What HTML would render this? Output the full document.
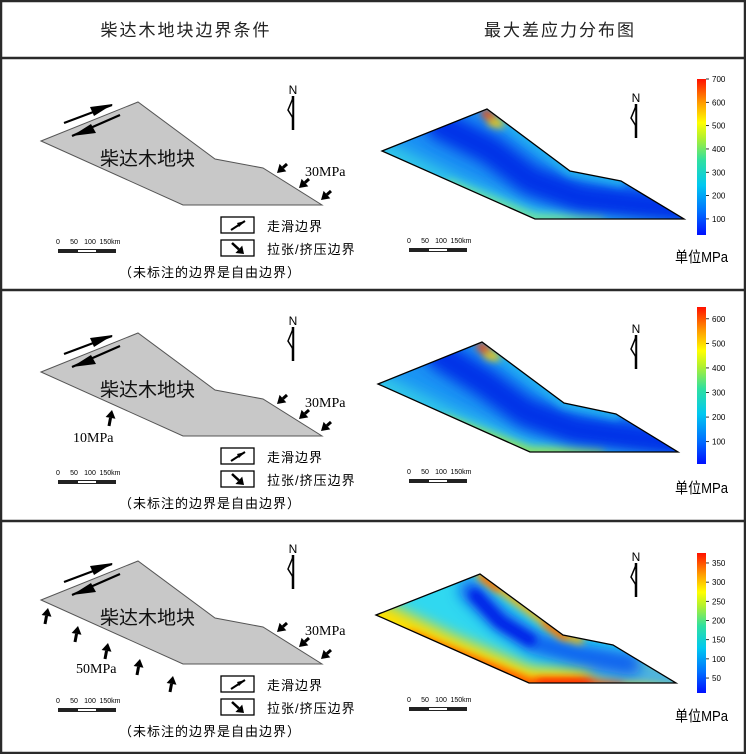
<!DOCTYPE html>
<html><head><meta charset="utf-8"><style>
html,body{margin:0;padding:0;background:#fff;}
svg{display:block;font-family:"Liberation Sans","Noto Sans CJK SC",sans-serif;}
</style></head><body>
<svg id="fig" width="746" height="754" viewBox="0 0 746 754" xmlns="http://www.w3.org/2000/svg">
<defs>
 <linearGradient id="jet" x1="0" y1="1" x2="0" y2="0">
  <stop offset="0" stop-color="#0010ff"/><stop offset="0.15" stop-color="#0070ff"/>
  <stop offset="0.32" stop-color="#00c8f0"/><stop offset="0.48" stop-color="#30e0a0"/>
  <stop offset="0.62" stop-color="#b0f030"/><stop offset="0.72" stop-color="#ffff00"/>
  <stop offset="0.85" stop-color="#ff9a00"/><stop offset="1" stop-color="#ff1000"/>
 </linearGradient>
 <filter id="blur" filterUnits="userSpaceOnUse" x="0" y="0" width="746" height="754"><feGaussianBlur stdDeviation="7"/></filter>
 <filter id="blur2" filterUnits="userSpaceOnUse" x="0" y="0" width="746" height="754"><feGaussianBlur stdDeviation="4"/></filter>
</defs>
<rect x="1" y="1" width="744" height="752" fill="#fff" stroke="#2a2a2a" stroke-width="2.5"/>
<text x="186" y="36" font-size="17" text-anchor="middle" letter-spacing="2" fill="#222">柴达木地块边界条件</text>
<text x="560" y="36" font-size="17" text-anchor="middle" letter-spacing="2" fill="#222">最大差应力分布图</text>
<g id="panels"></g>
</svg>
<script>
// panel vertical offsets
const panelOffsets = [0, 231, 459];
const separatorsY = [58, 290, 521];
// colorbar data per panel
const cbMin = [31, 9, 11];
const cbMax = [700, 648, 376];
const cbTicks = [[100,200,300,400,500,600,700],[100,200,300,400,500,600],[50,100,150,200,250,300,350]];
const cbTop = [79, 307, 553];
const cbBottom = [235, 464, 693];
// right-side stress polygons
const rightPolys = [
 [[382,151],[487,109],[570,171],[621,181],[684,219],[535,219]],
 [[378,384],[482,342],[564,403],[616,414],[678,452],[530,452]],
 [[376,615],[480,574],[563,635],[613,645],[676,683],[529,683]]
];
// heatmap field approximation: base colour and blurred strokes [color,width,blur,path-points]
const heatBase = ['#1a90f4', '#1a94f4', '#30d8f0'];
const heatLayers = [
 [
  ['#30c8e8',22,'blur',[[382,151],[460,190],[535,219],[684,219]]],
  ['#70e0a0',10,'blur2',[[450,185],[535,219],[600,219]]],
  ['#0030e8',30,'blur',[[440,125],[490,150],[530,180],[580,198],[640,205],[690,210]]],
  ['#20b0f0',10,'blur2',[[487,109],[570,171],[621,181]]],
  ['#ff4000',8,'blur2',[[485,113],[492,118]]],
  ['#ffd000',8,'blur2',[[492,122],[500,124]]]
 ],
 [
  ['#30c8e8',22,'blur',[[378,384],[455,422],[530,452],[678,452]]],
  ['#90e060',10,'blur2',[[445,420],[530,452],[600,452]]],
  ['#0030e8',30,'blur',[[440,355],[485,383],[525,412],[575,430],[635,438],[685,444]]],
  ['#20b0f0',10,'blur2',[[482,342],[564,403],[616,414]]],
  ['#ff4000',8,'blur2',[[480,346],[487,351]]],
  ['#ffd000',8,'blur2',[[488,355],[496,357]]]
 ],
 [
  ['#ffe000',30,'blur',[[376,615],[450,650],[529,683],[676,683]]],
  ['#ff5000',10,'blur2',[[410,636],[529,683],[620,683]]],
  ['#ff2000',7,'blur2',[[540,683],[590,683]]],
  ['#40b0f0',22,'blur',[[600,668],[690,680]]],
  ['#1060f0',22,'blur',[[470,590],[500,620],[535,643],[580,655],[630,664]]],
  ['#0020e8',12,'blur2',[[475,595],[500,622],[530,640]]],
  ['#ffb000',8,'blur2',[[480,574],[563,635],[580,640]]],
  ['#ff5000',5,'blur2',[[482,577],[498,589]]],
  ['#ff5000',5,'blur2',[[545,623],[565,637]]]
 ]
];
const leftPoly = [[41,141],[138,102],[215,159],[263,168],[322,205],[183,205]];
const compTips = [[277,173],[299,188],[321,200]];
const extraLoad = [null, {label:'10MPa', arrows:[[112,410]], tx:73, ty:442},
 {label:'50MPa', arrows:[[48,608],[78,626],[108,643],[140,659],[173,676]], tx:76, ty:673}];
const scaleLabels = ['0','50','100','150km'];

const NS='http://www.w3.org/2000/svg';
const root=document.getElementById('panels');
function mk(tag,attrs,parent){const e=document.createElementNS(NS,tag);for(const k in attrs)e.setAttribute(k,attrs[k]);(parent||root).appendChild(e);return e;}
function txt(s,attrs,parent){const e=mk('text',attrs,parent);e.textContent=s;return e;}
function pts(a,dy){return a.map(p=>p[0]+','+(p[1]+dy)).join(' ');}
function arrow(g,x1,y1,x2,y2,w,h,hw){
 h=h||7;hw=hw||5;
 const dx=x2-x1,dy=y2-y1,L=Math.hypot(dx,dy),ux=dx/L,uy=dy/L,nx=-uy,ny=ux;
 const bx=x2-ux*h,by=y2-uy*h;
 mk('line',{x1:x1,y1:y1,x2:bx,y2:by,stroke:'#000','stroke-width':w||2.5},g);
 mk('polygon',{points:`${x2},${y2} ${bx+nx*hw},${by+ny*hw} ${bx-nx*hw},${by-ny*hw}`,fill:'#000'},g);
}
function northArrow(g,x,y){
 txt('N',{x:x,y:y,'font-size':12,'text-anchor':'middle',fill:'#000'},g);
 mk('line',{x1:x,y1:y+2,x2:x,y2:y+36,stroke:'#000','stroke-width':2.5},g);
 mk('polygon',{points:`${x},${y+4} ${x-5},${y+16} ${x},${y+24}`,fill:'#fff',stroke:'#000','stroke-width':1.5},g);
}
function scaleBar(g,x,y){
 const xs=[0,16,32,52];
 scaleLabels.forEach((s,i)=>txt(s,{x:x+xs[i],y:y-7,'font-size':7,'text-anchor':'middle',fill:'#000'},g));
 mk('rect',{x:x,y:y-2,width:58,height:4,fill:'#222'},g);
 mk('rect',{x:x+20,y:y-1,width:18,height:2,fill:'#fff'},g);
}
separatorsY.forEach((y,i)=>{
 const l=mk('line',{x1:1,y1:y,x2:745,y2:y,stroke:'#2a2a2a','stroke-width':2.5});
 
 
});
const defs=document.querySelector('defs');
panelOffsets.forEach((dy,pi)=>{
 const g=mk('g',{});
 
 
 const lp=mk('polygon',{points:pts(leftPoly,dy),fill:'#c8c8c8',stroke:'#555','stroke-width':1},g);
 
 
 const bl=txt('柴达木地块',{x:100,y:165+dy,'font-size':19,fill:'#111'},g);
 
 
 mk('line',{x1:64,y1:123+dy,x2:112,y2:105+dy,stroke:'#000','stroke-width':2.2},g);
 mk('polygon',{points:`${113},${104+dy} ${90},${107+dy} ${94},${116+dy}`,fill:'#000'},g);
 mk('line',{x1:72,y1:136+dy,x2:120,y2:115+dy,stroke:'#000','stroke-width':2.2},g);
 mk('polygon',{points:`${72},${136+dy} ${96},${133+dy} ${91},${124+dy}`,fill:'#000'},g);
 const cg=mk('g',{},g);
 
 
 compTips.forEach(t=>arrow(cg,t[0]+10,t[1]-9+dy,t[0],t[1]+dy,3,8,5));
 txt('30MPa',{x:305,y:176+dy,'font-size':14,'font-family':'Liberation Serif, serif',fill:'#000'},g);
 const ex=extraLoad[pi];
 if(ex){
  const eg=mk('g',{},g);
  
  
  ex.arrows.forEach(t=>arrow(eg,t[0]-3,t[1]+16,t[0],t[1],3,8,5));
  txt(ex.label,{x:ex.tx,y:ex.ty,'font-size':14,'font-family':'Liberation Serif, serif',fill:'#000'},g);
 }
 northArrow(g,293,94+dy);
 scaleBar(g,58,251+dy);
 const lg=mk('g',{},g);
 
 
 mk('rect',{x:221,y:217+dy,width:33,height:16,fill:'#fff',stroke:'#000','stroke-width':1.3},lg);
 mk('line',{x1:231,y1:230+dy,x2:245,y2:221+dy,stroke:'#000','stroke-width':2},lg);
 mk('polygon',{points:`245,${221+dy} 237,${223+dy} 239,${227+dy}`,fill:'#000'},lg);
 txt('走滑边界',{x:267,y:231+dy,'font-size':13,fill:'#000','letter-spacing':1},lg);
 mk('rect',{x:221,y:240+dy,width:33,height:16,fill:'#fff',stroke:'#000','stroke-width':1.3},lg);
 arrow(lg,232,243+dy,244,254+dy,2.5,7,5);
 txt('拉张/挤压边界',{x:267,y:254+dy,'font-size':13,fill:'#000','letter-spacing':1},lg);
 txt('（未标注的边界是自由边界）',{x:210,y:277+dy,'font-size':13,'text-anchor':'middle',fill:'#000','letter-spacing':1},g);
 const rp=rightPolys[pi];
 const cp=mk('clipPath',{id:'clip'+pi},defs);
 mk('polygon',{points:pts(rp,0)},cp);
 const hg=mk('g',{'clip-path':'url(#clip'+pi+')'},g);
 
 
 mk('polygon',{points:pts(rp,0),fill:heatBase[pi]},hg);
 heatLayers[pi].forEach(L=>{
  mk('polyline',{points:pts(L[3],0),fill:'none',stroke:L[0],'stroke-width':L[1],'stroke-linecap':'round','stroke-linejoin':'round',filter:'url(#'+L[2]+')'},hg);
 });
 const hp=mk('polygon',{points:pts(rp,0),fill:'none',stroke:'#000','stroke-width':1.3},g);
 
 
 northArrow(g,636,102+dy);
 scaleBar(g,409,250+dy);
 const cb=mk('g',{},g);
 
 
 const t0=cbTop[pi],b0=cbBottom[pi],vmin=cbMin[pi],vmax=cbMax[pi];
 const yScale=v=>b0-(v-vmin)/(vmax-vmin)*(b0-t0);
 mk('rect',{x:697,y:t0,width:9,height:b0-t0,fill:'url(#jet)'},cb);
 cbTicks[pi].forEach(v=>{
  const y=yScale(v);
  mk('line',{x1:706,y1:y,x2:709,y2:y,stroke:'#000','stroke-width':0.8},cb);
  const tl=txt(String(v),{x:712,y:y+3,'font-size':8,fill:'#000'},cb);
  
  
 });
 txt('单位MPa',{x:675,y:262+dy,'font-size':15,fill:'#000',textLength:53,lengthAdjust:'spacingAndGlyphs'},g);
});
</script>
</body></html>
